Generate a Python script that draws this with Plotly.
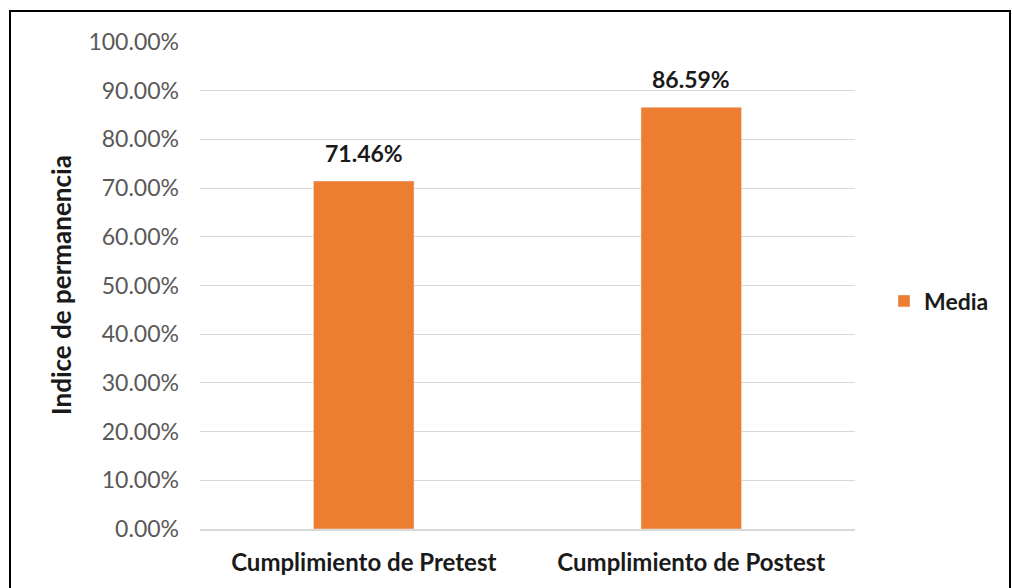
import plotly.graph_objects as go

categories = ["Cumplimiento de Pretest", "Cumplimiento de Postest"]
media = [0.7146, 0.8659]
labels = ["71.46%", "86.59%"]

W, H = 1012, 588
L, R, T, B = 200, 157, 42, 59
pw, ph = W - L - R, H - T - B
FONT = "Lato, Open Sans, sans-serif"

def px(x):
    return (x - L) / pw

def py(y):
    return (H - B - y) / ph

fig = go.Figure()
fig.add_trace(go.Bar(
    x=categories, y=media, name="Media",
    marker=dict(color="#ED7D31"),
))

annotations = [dict(x=c, y=v, text=t, xref="x", yref="y", showarrow=False,
                    yanchor="bottom", yshift=12,
                    font=dict(family=FONT, size=23, color="#1a1a1a", weight="bold"))
               for c, v, t in zip(categories, media, labels)]
annotations.append(dict(text="Indice de permanencia", x=px(62), y=py(285), xref="paper", yref="paper",
                        xanchor="center", yanchor="middle",
                        textangle=-90, showarrow=False, xshift=-1,
                        font=dict(family=FONT, size=26, color="#1a1a1a", weight="bold")))

fig.update_layout(
    width=W, height=H,
    margin=dict(l=L, r=R, t=T, b=B),
    paper_bgcolor="white", plot_bgcolor="white",
    bargap=0.693,
    showlegend=True,
    legend=dict(x=px(884), y=py(301), xanchor="left", yanchor="middle",
                font=dict(family=FONT, size=23, color="#1a1a1a", weight="bold"),
                itemwidth=30),
    xaxis=dict(range=[-0.5, 1.5], showgrid=False, showline=True, linecolor="#d9d9d9", linewidth=1.5,
               ticks="", ticklabelstandoff=11,
               tickfont=dict(family=FONT, size=24, color="#1a1a1a", weight="bold")),
    yaxis=dict(range=[0, 1], dtick=0.1, tickformat=".2%", showgrid=True, gridcolor="#d9d9d9",
               gridwidth=1, zeroline=False, ticks="", ticklabelstandoff=20,
               tickfont=dict(family=FONT, size=23, color="#595959")),
    annotations=annotations,
    shapes=[dict(type="rect", xref="paper", yref="paper",
                 x0=px(10), x1=px(1010), y0=py(11), y1=py(600),
                 line=dict(color="black", width=2), fillcolor="rgba(0,0,0,0)", layer="above")],
)

fig.write_html("out.html")
